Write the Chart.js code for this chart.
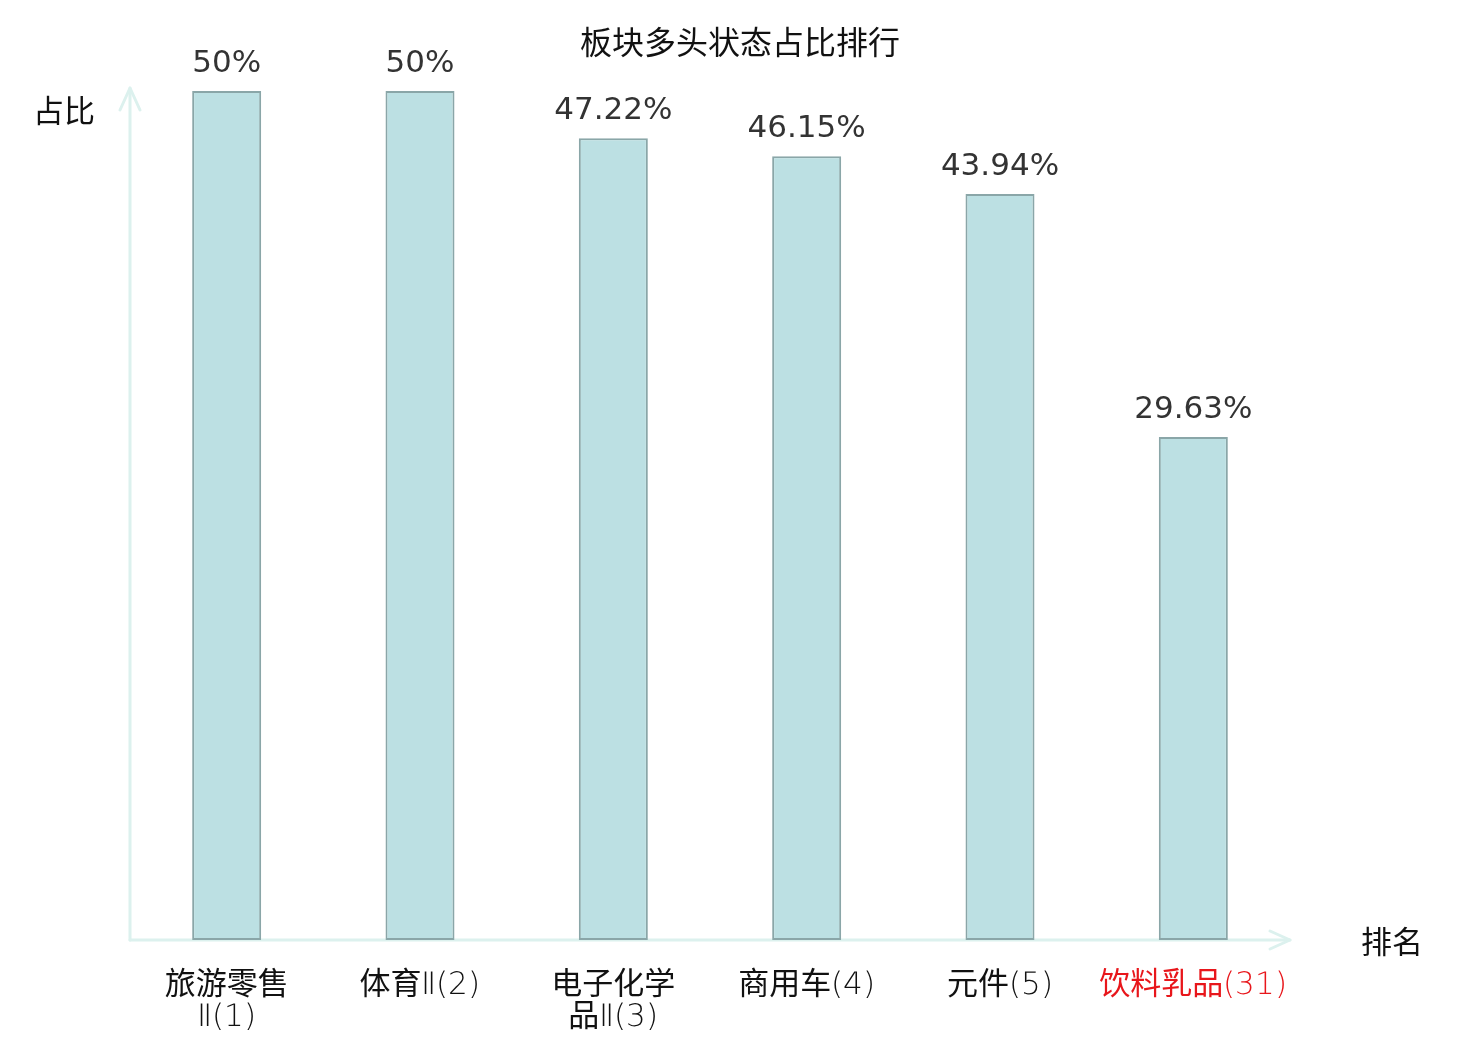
<!DOCTYPE html>
<html>
<head>
<meta charset="utf-8">
<script src="https://cdn.jsdelivr.net/npm/chart.js@4/dist/chart.umd.min.js"></script>
<style>
html,body{margin:0;padding:0;background:#fff;}
#wrap{width:1480px;height:1040px;position:relative;}
@font-face {
  font-family: 'TickLatin';
  src: local('DejaVu Sans ExtraLight'), local('DejaVuSans-ExtraLight');
  unicode-range: U+0000-00FF, U+2160-2188;
}
</style>
</head>
<body>
<div id="wrap"><canvas id="c" width="1480" height="1040"></canvas></div>
<script>
const chartTitle = "板块多头状态占比排行";
const yAxisName = "占比";
const xAxisName = "排名";
const categories = [
  ["旅游零售", "Ⅱ(1)"],
  ["体育Ⅱ(2)"],
  ["电子化学", "品Ⅱ(3)"],
  ["商用车(4)"],
  ["元件(5)"],
  ["饮料乳品(31)"]
];
const values = [50, 50, 47.22, 46.15, 43.94, 29.63];
const highlightIndex = [5];

const axisColor = "#dcf1ee";
const cjkFont = "'Noto Sans CJK SC', 'DejaVu Sans', sans-serif";
const tickFont = "'TickLatin', 'Noto Sans CJK SC', sans-serif";

const decorPlugin = {
  id: "decor",
  beforeDatasetsDraw(chart) {
    const ctx = chart.ctx;
    const a = chart.chartArea;
    ctx.save();
    ctx.strokeStyle = axisColor;
    ctx.lineWidth = 3;
    ctx.lineCap = "round";
    ctx.lineJoin = "round";
    ctx.beginPath();
    ctx.moveTo(a.left, a.bottom);
    ctx.lineTo(a.left, a.top - 3);
    ctx.stroke();
    ctx.beginPath();
    ctx.moveTo(a.left - 10, a.top + 19);
    ctx.lineTo(a.left, a.top - 3);
    ctx.lineTo(a.left + 10, a.top + 19);
    ctx.stroke();
    ctx.beginPath();
    ctx.moveTo(a.left, a.bottom);
    ctx.lineTo(a.right, a.bottom);
    ctx.stroke();
    ctx.beginPath();
    ctx.moveTo(a.right - 20, a.bottom - 9);
    ctx.lineTo(a.right, a.bottom);
    ctx.lineTo(a.right - 20, a.bottom + 9);
    ctx.stroke();
    ctx.restore();
  },
  afterDatasetsDraw(chart) {
    const ctx = chart.ctx;
    const a = chart.chartArea;
    ctx.save();
    const meta = chart.getDatasetMeta(0);
    ctx.font = "31px 'DejaVu Sans', sans-serif";
    ctx.fillStyle = "#333333";
    ctx.textAlign = "center";
    ctx.textBaseline = "alphabetic";
    meta.data.forEach((bar, i) => {
      ctx.fillText(values[i] + "%", bar.x, bar.y - 19);
    });
    ctx.font = "32px " + cjkFont;
    ctx.fillStyle = "#111";
    ctx.textBaseline = "middle";
    ctx.textAlign = "center";
    ctx.fillText(chartTitle, chart.width / 2, 42);
    ctx.font = "31px " + cjkFont;
    ctx.textAlign = "left";
    ctx.fillText(yAxisName, 33, 110);
    ctx.fillText(xAxisName, a.right + 71, a.bottom + 1);
    ctx.restore();
  }
};

function build() {
  new Chart(document.getElementById("c"), {
    type: "bar",
    data: {
      labels: categories,
      datasets: [{
        data: values,
        backgroundColor: "#bce0e3",
        borderColor: "#8aa6a8",
        borderWidth: 2,
        borderSkipped: false,
        categoryPercentage: 1,
        barPercentage: 0.357
      }]
    },
    options: {
      responsive: false,
      animation: false,
      devicePixelRatio: 1,
      layout: { padding: { left: 130, right: 190, top: 91, bottom: 0 } },
      plugins: { legend: { display: false }, tooltip: { enabled: false }, title: { display: false } },
      scales: {
        x: {
          grid: { display: false, drawTicks: false },
          border: { display: false },
          afterFit(s) { s.height = 100; },
          ticks: {
            padding: 30,
            maxRotation: 0,
            autoSkip: false,
            font: { family: tickFont, size: 31, lineHeight: 1.03 },
            color: (c) => highlightIndex.includes(c.index) ? "#e8161b" : "#111111"
          }
        },
        y: {
          display: false,
          min: 0,
          max: 50
        }
      }
    },
    plugins: [decorPlugin]
  });
}

document.fonts.load("31px 'TickLatin'", "Ⅱ(123)").then(build, build);
</script>
</body>
</html>
